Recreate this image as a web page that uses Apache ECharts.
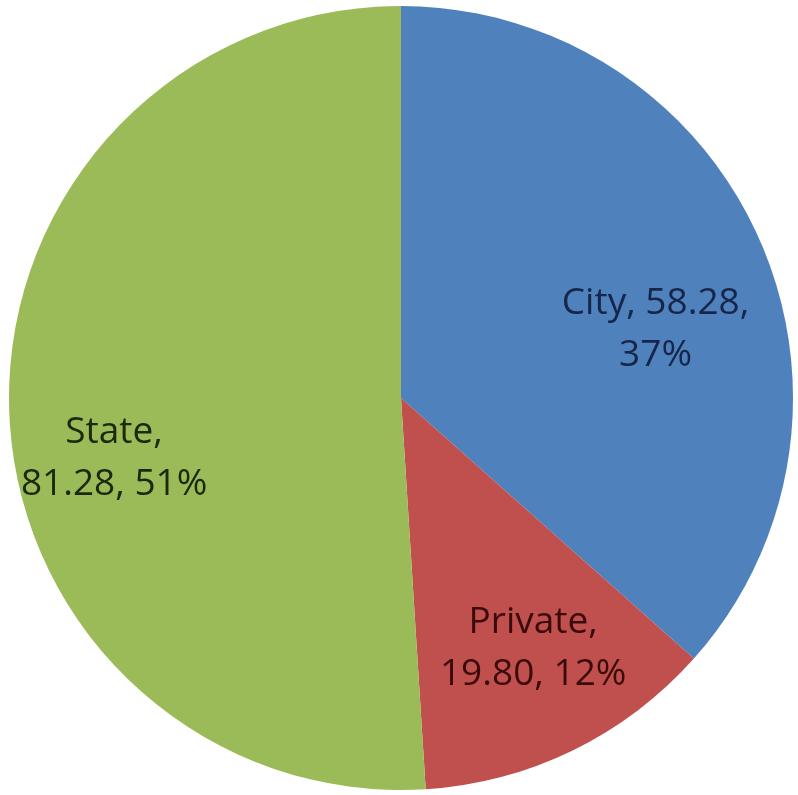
<!DOCTYPE html>
<html>
<head>
<meta charset="utf-8">
<script src="https://cdn.jsdelivr.net/npm/echarts@6/dist/echarts.min.js"></script>
<style>
  html, body { margin: 0; padding: 0; background: #ffffff; }
  #chart { width: 798px; height: 795px; }
</style>
</head>
<body>
<div id="chart"></div>
<script>
// Funding by source
const categories = ['City', 'Private', 'State'];
const amounts = [58.28, 19.80, 81.28];

const sliceColors = ['#4f81bd', '#c0504d', '#9bbb59'];
const labelColors = ['#16264a', '#3b0b0b', '#1c280c'];
// nudges applied to each inside label, best-fit style placement
const labelShift = [[73, 13], [45, 72], [-88, 54]];

const total = amounts.reduce((a, b) => a + b, 0);

const chart = echarts.init(document.getElementById('chart'), null, { renderer: 'canvas' });

chart.setOption({
  animation: false,
  backgroundColor: '#ffffff',
  series: [{
    type: 'pie',
    center: [401, 398],
    radius: [0, 392],
    startAngle: 90,
    clockwise: true,
    avoidLabelOverlap: false,
    itemStyle: { borderWidth: 0 },
    label: {
      show: true,
      position: 'inside',
      fontFamily: 'Open Sans',
      fontSize: 37,
      lineHeight: 52,
      align: 'center',
      formatter: function (p) {
        const pct = Math.round(p.value / total * 100) + '%';
        const val = p.value.toFixed(2);
        if (p.dataIndex === 0) return p.name + ', ' + val + ',\n' + pct;
        return p.name + ',\n' + val + ', ' + pct;
      }
    },
    labelLine: { show: false },
    emphasis: { disabled: true },
    labelLayout: function (params) {
      const s = labelShift[params.dataIndex];
      return { dx: s[0], dy: s[1] };
    },
    data: categories.map((name, i) => ({
      name: name,
      value: amounts[i],
      itemStyle: { color: sliceColors[i] },
      label: { color: labelColors[i] }
    }))
  }]
});
</script>
</body>
</html>
